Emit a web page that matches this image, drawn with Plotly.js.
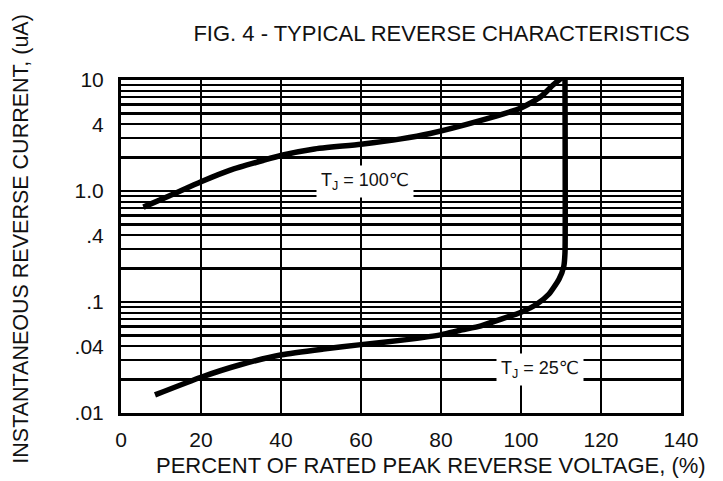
<!DOCTYPE html>
<html>
<head>
<meta charset="utf-8">
<script src="https://cdn.plot.ly/plotly-3.0.1.min.js"></script>
<style>html,body{margin:0;padding:0;background:#fff;}#chart{width:723px;height:481px;}</style>
</head>
<body>
<div id="chart"></div>
<script>
// Percent of rated peak reverse voltage (%) vs instantaneous reverse current (uA)
var x100 = [5.6, 12, 20, 27.3, 35.6, 40.2, 48, 60, 70, 77.3, 90, 100, 105, 108, 109.5, 111.5];
var y100 = [0.716, 0.9, 1.21, 1.54, 1.89, 2.1, 2.38, 2.64, 2.95, 3.3, 4.33, 5.6, 7.1, 9.0, 10, 11.2];

var x25 = [8.5, 20, 29.8, 40.2, 50.6, 60, 71.4, 80.2, 84.8, 90, 100, 104, 107, 109.5, 110.7, 111, 111, 111];
var y25 = [0.01455, 0.021, 0.0272, 0.0335, 0.0377, 0.0413, 0.0458, 0.0508, 0.0556, 0.061, 0.081, 0.096, 0.118, 0.16, 0.21, 0.28, 10, 11.5];

var xTicks = [0, 20, 40, 60, 80, 100, 120, 140];
var yTickVals = [0.01, 0.04, 0.1, 0.4, 1, 4, 10];
var yTickText = [".01", ".04", ".1", ".4", "1.0", "4", "10"];
var yMinorVals = [0.02,0.03,0.05,0.06,0.07,0.08,0.09,
                  0.2,0.3,0.5,0.6,0.7,0.8,0.9,
                  2,3,5,6,7,8,9];

var labels = ["T<sub>J</sub> = 100\u2103", "T<sub>J</sub> = 25\u2103"];
var labelX = [61, 104.7];
var labelY = [1.21, 0.0246];

var FONT = "Liberation Sans, Arial, DejaVu Sans, sans-serif";
var INK = "#111";
var FS = 21;
var TS = 22;

var traces = [
  {x: x100, y: y100, mode: "lines", line: {color: "#000", width: 5.5, shape: "spline", smoothing: 0.6}, hoverinfo: "skip"},
  {x: x25, y: y25, mode: "lines", line: {color: "#000", width: 5.5, shape: "spline", smoothing: 0.5}, hoverinfo: "skip"}
];

var annotations = labels.map(function(t, i){
  return {x: labelX[i], y: Math.log10(labelY[i]), xref: "x", yref: "y", text: t, showarrow: false,
          bgcolor: "#fff", borderpad: 4, font: {family: FONT, size: 18, color: INK}};
});
annotations.push({
  text: "PERCENT OF RATED PEAK REVERSE VOLTAGE, (%)", xref: "paper", yref: "paper",
  x: 0.5536, y: -0.159, xanchor: "center", yanchor: "middle", showarrow: false,
  font: {family: FONT, size: TS, color: INK}
});
annotations.push({
  text: "INSTANTANEOUS REVERSE CURRENT, (uA)", xref: "paper", yref: "paper",
  x: -0.180, y: 0.524, xanchor: "center", yanchor: "middle", textangle: -90, showarrow: false,
  font: {family: FONT, size: 21.5, color: INK}
});

var layout = {
  width: 723, height: 481,
  margin: {l: 121, r: 42, t: 80, b: 68},
  paper_bgcolor: "#fff", plot_bgcolor: "#fff",
  showlegend: false,
  title: {text: "FIG. 4 - TYPICAL REVERSE CHARACTERISTICS", font: {family: FONT, size: TS, color: INK},
          x: 0.954, xanchor: "right", xref: "container", y: 0.93, yanchor: "middle", yref: "container"},
  xaxis: {
    range: [0, 140], tickvals: xTicks, ticktext: xTicks.map(String),
    showgrid: true, gridcolor: "#000", gridwidth: 2.5,
    showline: true, linecolor: "#000", linewidth: 3, mirror: true,
    zeroline: false, ticks: "", ticklabelstandoff: 6,
    tickfont: {family: FONT, size: FS, color: INK}
  },
  yaxis: {
    type: "log", range: [-2, 1], tickvals: yTickVals, ticktext: yTickText,
    showgrid: true, gridcolor: "#000", gridwidth: 2.5,
    minor: {tickvals: yMinorVals, showgrid: true, gridcolor: "#000", gridwidth: 2.5, ticks: ""},
    showline: true, linecolor: "#000", linewidth: 3, mirror: true,
    zeroline: false, ticks: "", ticklabelstandoff: 10,
    tickfont: {family: FONT, size: FS, color: INK}
  },
  annotations: annotations
};

Plotly.newPlot("chart", traces, layout, {displayModeBar: false, staticPlot: true});
</script>
</body>
</html>
